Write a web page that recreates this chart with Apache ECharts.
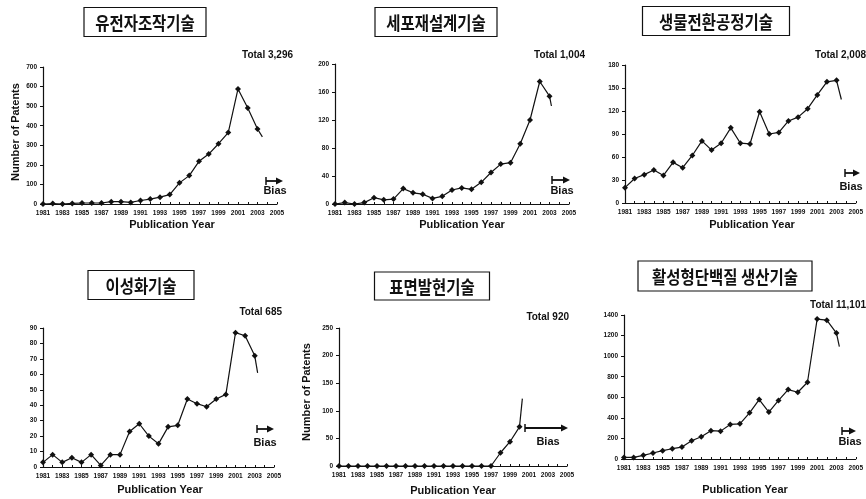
<!DOCTYPE html>
<html>
<head>
<meta charset="utf-8">
<script src="https://cdn.jsdelivr.net/npm/echarts@6/dist/echarts.min.js"></script>
<style>
html,body{margin:0;padding:0;background:#fff}
#chart{width:866px;height:499px}
</style>
</head>
<body>
<div id="chart"></div>
<script>
// Publication years with counted patents
const years = [1981,1982,1983,1984,1985,1986,1987,1988,1989,1990,1991,1992,
               1993,1994,1995,1996,1997,1998,1999,2000,2001,2002,2003];
const labelYears = [1981,1983,1985,1987,1989,1991,1993,1995,1997,1999,2001,2003,2005];
const tickYears = [1981,1982,1983,1984,1985,1986,1987,1988,1989,1990,1991,1992,1993,
                   1994,1995,1996,1997,1998,1999,2000,2001,2002,2003,2004,2005];

// Panel headings and totals
const techNames = ['유전자조작기술','세포재설계기술','생물전환공정기술',
                   '이성화기술','표면발현기술','활성형단백질 생산기술'];
const totals = ['Total 3,296','Total 1,004','Total 2,008','Total 685','Total 920','Total 11,101'];

// Patent counts per year
const geneManipulation = [0,2,0,3,5,5,5,12,12,8,18,25,35,48,108,145,218,255,308,365,588,490,383];
const cellRedesign     = [0,2,0,2,9,6,7,22,16,14,8,11,20,23,21,31,45,57,59,86,120,175,154];
const bioconversion    = [20,32,37,43,36,53,46,62,81,69,78,98,78,77,119,90,92,107,112,123,141,158,160];
const isomerization    = [3,8,3,6,3,8,1,8,8,23,28,20,15,26,27,44,41,39,44,47,87,85,72];
const surfaceDisplay   = [0,0,0,0,0,0,0,0,0,0,0,0,0,0,0,0,0,24,44,71];
const activeProtein    = [15,15,36,58,81,100,116,178,216,275,271,336,342,449,578,456,569,675,649,746,1360,1350,1224];

// Incomplete (biased) final stretch of each curve: [year, count]
const biasTails = [[2003.5,343],[2003.2,140],[2003.5,135],[2003.3,61],[2000.3,122],[2003.3,1092]];

// Value-axis ranges
const yMax  = [700,200,180,90,250,1400];
const yStep = [100,40,30,10,50,200];

const panelSeries = [geneManipulation, cellRedesign, bioconversion, isomerization, surfaceDisplay, activeProtein];

// Plot rectangles: left, top, width, height
const grids = [
  {left:43,  top:67,  width:234, height:137},
  {left:335, top:64,  width:234, height:140},
  {left:625, top:65,  width:233, height:138},
  {left:43,  top:328, width:231, height:139},
  {left:339, top:328, width:228, height:138},
  {left:624, top:315, width:233, height:144}
];

const INK = '#111';
const LABEL_FONT = 'Liberation Sans, Arial, sans-serif';

const xAxes = [], yAxes = [], series = [];
grids.forEach((g, i) => {
  xAxes.push({
    type:'value', gridIndex:i, min:1981, max:2005,
    axisLine:{show:true, lineStyle:{color:INK, width:1.2}},
    axisTick:{show:true, length:2, inside:true, customValues:tickYears, lineStyle:{color:INK}},
    axisLabel:{customValues:labelYears, fontSize:6.5, fontWeight:'bold', color:INK,
               fontFamily:LABEL_FONT, margin:6, formatter:v => String(v)},
    splitLine:{show:false}
  });
  yAxes.push({
    type:'value', gridIndex:i, min:0, max:yMax[i], interval:yStep[i],
    axisLine:{show:true, lineStyle:{color:INK, width:1.2}},
    axisTick:{show:true, length:3, lineStyle:{color:INK}},
    axisLabel:{fontSize:6.5, fontWeight:'bold', color:INK, fontFamily:LABEL_FONT, margin:6,
               formatter:v => String(v)},
    splitLine:{show:false}
  });
  const vals = panelSeries[i];
  const pts = vals.map((v, k) => [years[k], v]);
  series.push({
    type:'line', xAxisIndex:i, yAxisIndex:i, data:pts,
    symbol:'diamond', symbolSize:6, showSymbol:true,
    lineStyle:{color:INK, width:1.2}, itemStyle:{color:INK},
    silent:true
  });
  const last = pts[pts.length - 1];
  series.push({
    type:'line', xAxisIndex:i, yAxisIndex:i, data:[last, biasTails[i]],
    symbol:'none', lineStyle:{color:INK, width:1.2}, silent:true
  });
});

// Boxed heading: centre x, centre y, box width, box height
const headBoxes = [
  [145,22,122,29],[436,22,122,29],[716,21,147,29],
  [141,285,106,29],[432,286,115,28],[725,276,174,30]
];
// Bias arrows: start x, end x, y
const biasArrows = [
  [266,283,181],[552,570,180],[845,860,173],
  [257,274,429],[525,568,428],[842,856,431]
];
const biasText = [[275,191],[562,191],[851,187],[265,443],[548,442],[850,442]];
const totalPos = [[293,55],[585,55],[866,55],[282,312],[569,317],[866,305]];
const pubYearPos = [[172,225],[462,225],[752,225],[160,490],[453,491],[745,490]];
const patentsAxisName = [[16,132],[307,392]];

const graphics = [];
headBoxes.forEach((b, i) => {
  graphics.push({type:'rect', shape:{x:b[0]-b[2]/2, y:b[1]-b[3]/2, width:b[2], height:b[3]},
    style:{fill:'#fff', stroke:INK, lineWidth:1.2}});
  graphics.push({type:'text', x:b[0], y:b[1]+1, scaleX:0.86,
    style:{text:techNames[i], fontSize:18, fontWeight:'bold', fill:INK,
           fontFamily:'Noto Sans CJK KR', textAlign:'center', textVerticalAlign:'middle'}});
});
biasArrows.forEach(a => {
  const [x0, x1, y] = a;
  graphics.push({type:'line', shape:{x1:x0, y1:y-4, x2:x0, y2:y+4}, style:{stroke:INK, lineWidth:1.5}});
  graphics.push({type:'line', shape:{x1:x0, y1:y, x2:x1-5, y2:y}, style:{stroke:INK, lineWidth:1.8}});
  graphics.push({type:'polygon', shape:{points:[[x1-7,y-3.5],[x1,y],[x1-7,y+3.5]]}, style:{fill:INK}});
});
biasText.forEach(p => {
  graphics.push({type:'text', x:p[0], y:p[1],
    style:{text:'Bias', fontSize:11, fontWeight:'bold', fill:INK, fontFamily:LABEL_FONT,
           textAlign:'center', textVerticalAlign:'middle'}});
});
totalPos.forEach((p, i) => {
  graphics.push({type:'text', x:p[0], y:p[1],
    style:{text:totals[i], fontSize:10, fontWeight:'bold', fill:INK, fontFamily:LABEL_FONT,
           textAlign:'right', textVerticalAlign:'middle'}});
});
pubYearPos.forEach(p => {
  graphics.push({type:'text', x:p[0], y:p[1],
    style:{text:'Publication Year', fontSize:11, fontWeight:'bold', fill:INK, fontFamily:LABEL_FONT,
           textAlign:'center', textVerticalAlign:'middle'}});
});
patentsAxisName.forEach(p => {
  graphics.push({type:'text', x:p[0], y:p[1], rotation:Math.PI/2,
    style:{text:'Number of Patents', fontSize:11, fontWeight:'bold', fill:INK, fontFamily:LABEL_FONT,
           textAlign:'center', textVerticalAlign:'middle'}});
});

const chart = echarts.init(document.getElementById('chart'), null, {renderer:'canvas'});
chart.setOption({
  backgroundColor:'#fff',
  animation:false,
  grid:grids.map(g => Object.assign({containLabel:false}, g)),
  xAxis:xAxes,
  yAxis:yAxes,
  series:series,
  graphic:graphics
});
</script>
</body>
</html>
